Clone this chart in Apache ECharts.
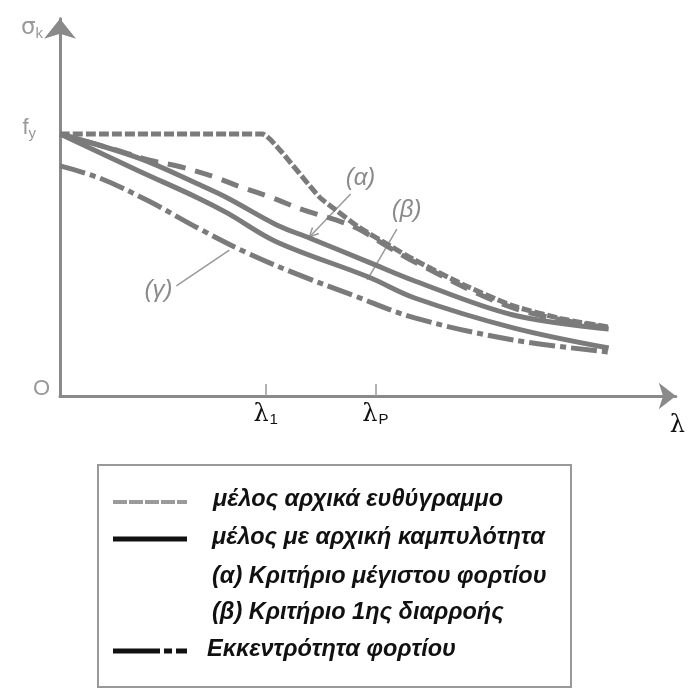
<!DOCTYPE html>
<html><head><meta charset="utf-8">
<script src="https://cdn.jsdelivr.net/npm/echarts@6/dist/echarts.min.js"></script>
<style>html,body{margin:0;padding:0;background:#fff}#c{width:688px;height:693px}</style>
</head><body><div id="c"></div>
<script>
// ---- data (λ in arbitrary units, σk with fy = 100) ----
const idealX = [0, 32.8, 35.7, 42.1, 44.8, 48.5, 52.8, 57.6, 65.6, 73.6, 81.6, 89.1];
const idealY = [100, 100, 93.9, 76.0, 71.0, 64.5, 58.4, 51.9, 42.4, 34.4, 29.4, 26.3];
const alphaX = [0, 12.8, 22.4, 27.2, 35.2, 40.5, 50.1, 57.6, 73.6, 89.1];
const alphaY = [100, 90.8, 80.9, 75.6, 65.3, 60.3, 51.1, 43.9, 30.9, 25.6];
const betaX  = [0, 12.8, 22.4, 27.2, 35.2, 50.1, 57.6, 73.6, 89.1];
const betaY  = [100, 85.9, 75.6, 69.8, 58.8, 45.4, 37.4, 26.0, 18.3];
const eccAX  = [0, 9.1, 14.4, 19.7, 25.1, 29.3, 34.1, 39.5, 44.8, 48.5, 52.8, 57.6, 73.6, 89.1];
const eccAY  = [100, 93.9, 90.1, 87.4, 83.6, 79.8, 76.0, 71.0, 67.2, 63.7, 57.6, 51.1, 33.6, 26.0];
const gammaX = [0, 6.4, 14.4, 22.4, 30.4, 38.4, 47.5, 57.6, 73.6, 89.1];
const gammaY = [87.8, 83.2, 74.4, 64.1, 54.6, 46.6, 38.5, 29.8, 21.4, 16.8];

const xTickValues = [33.4, 51.2];
const xTickLabels = ['{l|λ}{s|1}', '{l|λ}{s|P}'];
const yTickValues = [0, 100];
const yTickLabels = ['{o|O}', '{f|f}{fs|y}'];

const legendTexts = [
  'μέλος αρχικά ευθύγραμμο',
  'μέλος με αρχική καμπυλότητα',
  '(α) Κριτήριο μέγιστου φορτίου',
  '(β) Κριτήριο 1ης διαρροής',
  'Εκκεντρότητα φορτίου'
];
// annotations: label, text position, leader start, leader end (data coords)
const annotNames = ['(α)', '(β)', '(γ)'];
const annotText  = [[48.8, 83.2], [56.3, 71.0], [16.0, 40.5]];
const annotFrom  = [[47.2, 77.1], [54.7, 63.7], [18.9, 42.0]];
const annotTo    = [[40.5, 60.7], [49.9, 44.3], [27.5, 55.7]];

const zip = (xs, ys) => xs.map((x, i) => [x, ys[i]]);
const CURVE = '#7b7b7b';
const AXIS = '#8a8a8a';

const chart = echarts.init(document.getElementById('c'));
function mk(name, xs, ys, dash, z, sm) {
  return {
    name, type: 'line', data: zip(xs, ys), showSymbol: false, symbol: 'none',
    smooth: sm == null ? 0.35 : sm, z: z || 2, animation: false,
    lineStyle: { color: CURVE, width: 5, type: dash || 'solid', cap: 'butt' }
  };
}
chart.setOption({
  animation: false,
  grid: { left: 60, right: 3, top: 18.7, bottom: 297, containLabel: false },
  xAxis: {
    type: 'value', min: 0, max: 100,
    name: 'λ', nameLocation: 'end', nameGap: -6,
    nameTextStyle: { fontFamily: 'DejaVu Serif', fontSize: 24, color: '#111', verticalAlign: 'top', padding: [18, 0, 0, 0] },
    axisLine: { show: true, symbol: ['none', 'arrow'], symbolSize: [20, 17], lineStyle: { color: AXIS, width: 3 } },
    axisTick: { show: true, inside: true, length: 12, customValues: xTickValues, lineStyle: { color: '#999', width: 1.5 } },
    axisLabel: {
      customValues: xTickValues, margin: 6,
      formatter: (v) => xTickLabels[xTickValues.indexOf(v)] || '',
      rich: {
        l: { fontFamily: 'DejaVu Serif', fontSize: 24, color: '#111' },
        s: { fontFamily: 'Liberation Sans', fontSize: 15, color: '#111', verticalAlign: 'bottom', padding: [10, 0, 0, 1] }
      }
    },
    splitLine: { show: false }
  },
  yAxis: {
    type: 'value', min: 0, max: 144,
    name: '{s|σ}{k|k}', nameLocation: 'end', nameGap: 4,
    nameTextStyle: { align: 'right', verticalAlign: 'top', padding: [0, 17, 0, 0],
      rich: {
        s: { fontFamily: 'DejaVu Sans', fontSize: 23, color: '#999' },
        k: { fontFamily: 'Liberation Sans', fontSize: 15, color: '#999', padding: [12, 0, 0, 0] }
      } },
    axisLine: { show: true, symbol: ['none', 'arrow'], symbolSize: [24, 20], lineStyle: { color: AXIS, width: 3 } },
    axisTick: { show: false },
    axisLabel: {
      customValues: yTickValues, margin: 10,
      formatter: (v) => yTickLabels[yTickValues.indexOf(v)] || '',
      rich: {
        o: { fontFamily: 'Liberation Sans', fontSize: 22, color: '#999', padding: [0, 0, 14, 0] },
        f: { fontFamily: 'Liberation Sans', fontSize: 22, color: '#999', padding: [0, 0, 12, 0] },
        fs: { fontFamily: 'Liberation Sans', fontSize: 15, color: '#999', padding: [0, 14, 0, 0] }
      }
    },
    splitLine: { show: false }
  },
  series: [
    mk('ideal', idealX, idealY, [10, 3], 3, 0.2),
    mk('ecc-a', eccAX, eccAY, [18, 10], 2),
    mk('alpha', alphaX, alphaY, 'solid', 2),
    mk('beta', betaX, betaY, 'solid', 2),
    mk('gamma', gammaX, gammaY, [26, 5, 6, 5], 2)
  ]
});

// ---- graphics: annotations + legend box ----
const g = [];
annotNames.forEach((t, i) => {
  const p = chart.convertToPixel('grid', annotText[i]);
  const a = chart.convertToPixel('grid', annotFrom[i]);
  const b = chart.convertToPixel('grid', annotTo[i]);
  g.push({ type: 'text', x: p[0], y: p[1], style: { text: t, font: 'italic 24px "Liberation Sans"', fill: '#8a8a8a', align: 'center', verticalAlign: 'middle' } });
  g.push({ type: 'line', shape: { x1: a[0], y1: a[1], x2: b[0], y2: b[1] }, style: { stroke: '#999', lineWidth: 1.5 } });
  if (i === 0) {
    const ang = Math.atan2(b[1] - a[1], b[0] - a[0]);
    const L = 10, w = 0.45;
    g.push({ type: 'polyline', shape: { points: [
      [b[0] - L * Math.cos(ang - w), b[1] - L * Math.sin(ang - w)], [b[0], b[1]],
      [b[0] - L * Math.cos(ang + w), b[1] - L * Math.sin(ang + w)] ] },
      style: { stroke: '#999', lineWidth: 1.5, fill: null } });
  }
});
// legend
g.push({ type: 'rect', shape: { x: 98, y: 465, width: 473, height: 222 }, style: { fill: '#fff', stroke: '#999', lineWidth: 2 } });
g.push({ type: 'line', shape: { x1: 113, y1: 502, x2: 187, y2: 502 }, style: { stroke: '#9a9a9a', lineWidth: 4, lineDash: [14, 2] } });
g.push({ type: 'line', shape: { x1: 113, y1: 539, x2: 187, y2: 539 }, style: { stroke: '#111', lineWidth: 5 } });
g.push({ type: 'line', shape: { x1: 113, y1: 651, x2: 187, y2: 651 }, style: { stroke: '#111', lineWidth: 5, lineDash: [47, 4, 8, 4, 12, 0] } });
const ly = [500, 538, 577, 613, 650];
const lx = [213, 212, 212, 212, 207];
legendTexts.forEach((t, i) => {
  g.push({ type: 'text', x: lx[i], y: ly[i], style: { text: t, font: 'italic bold 23.5px "Liberation Sans"', fill: '#111', verticalAlign: 'middle' } });
});
chart.setOption({ graphic: g });
</script>
</body></html>
